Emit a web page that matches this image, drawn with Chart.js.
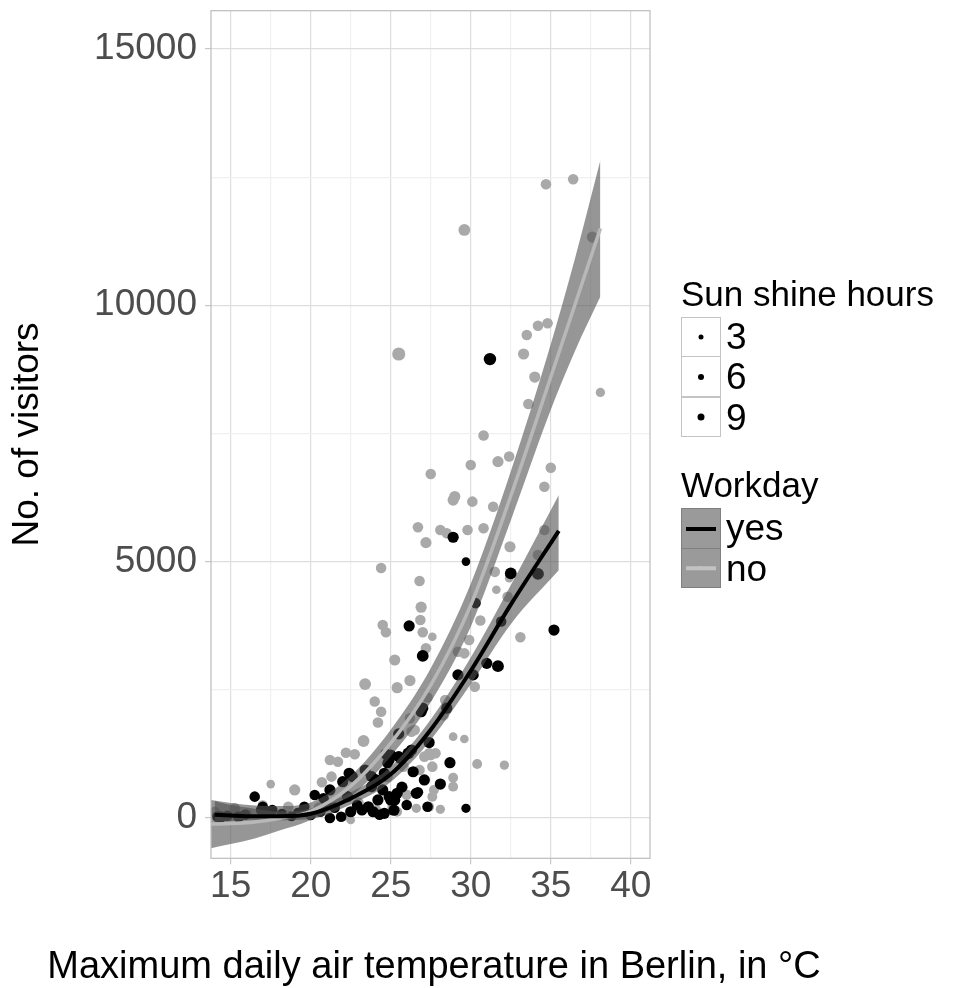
<!DOCTYPE html>
<html>
<head>
<meta charset="utf-8">
<script src="https://cdn.jsdelivr.net/npm/chart.js@4.4.1/dist/chart.umd.min.js"></script>
<style>
  html, body { margin: 0; padding: 0; background: #fff; }
  #wrap { position: relative; width: 958px; height: 988px; font-family: "Liberation Sans", Arial, sans-serif; }
  #chart { position: absolute; left: 0; top: 0; }
  #xtitle { position: absolute; left: 0; width: 868px; top: 946px; text-align: center; font-size: 38px; line-height: 38px; color: #000; white-space: nowrap; }
  .lg-title { position: absolute; left: 681px; font-size: 35px; line-height: 35px; color: #000; white-space: nowrap; }
  .lg-keys { position: absolute; left: 681px; }
  .lg-row { display: flex; height: 40.6px; }
  .lg-key { position: relative; width: 40px; height: 40.6px; box-sizing: border-box; border: 1px solid #c4c4c4; margin-top: -1px; }
  .lg-row:first-child .lg-key { margin-top: 0; }
  .lg-key i { position: absolute; left: 50%; top: 50%; border-radius: 50%; background: #000; transform: translate(-50%, -50%); }
  .lg-key b { position: absolute; left: 4px; right: 4px; top: 50%; transform: translateY(-50%); }
  .lg-lab { font-size: 37px; line-height: 40.6px; margin-left: 5px; color: #000; }
</style>
</head>
<body>
<div id="wrap">
  <canvas id="chart" width="958" height="988"></canvas>
  <div id="xtitle">Maximum daily air temperature in Berlin, in °C</div>
  <div class="lg-title" style="top:276px">Sun shine hours</div>
  <div class="lg-keys" id="sunKeys" style="top:316.7px"></div>
  <div class="lg-title" style="top:467px">Workday</div>
  <div class="lg-keys" id="workKeys" style="top:508.3px"></div>
</div>
<script>
const xTicks = [15, 20, 25, 30, 35, 40];
const xMinor = [17.5, 22.5, 27.5, 32.5, 37.5];
const yTicks = [0, 5000, 10000, 15000];
const yMinor = [2500, 7500, 12500];
const sunBreaks = [3, 6, 9];
const workdayLevels = ['yes', 'no'];

// days that were not workdays
const noTemp = [34.7, 36.4, 29.6, 37.6, 25.5, 34.8, 34.2, 33.5, 33.3, 34.0, 33.6, 38.1, 30.8, 27.5, 30.0,
  31.7, 32.4, 35.0, 34.6, 29.0, 28.9, 30.1, 31.4, 26.7, 28.1, 28.5, 29.8, 30.8, 27.2, 34.6,
  32.45, 34.2, 24.4, 26.8, 32.4, 31.6, 26.9, 26.85, 32.3, 24.5, 24.7, 27.0, 27.6, 33.1, 27.2,
  25.25, 26.2, 23.4, 25.4, 24.0, 24.4, 24.2, 23.3, 26.3, 29.2, 29.6, 29.9, 30.25, 27.4, 27.8,
  28.9, 29.6, 30.4, 28.9, 28.9, 26.6, 28.1, 27.6, 27.7, 22.2, 22.75, 21.2, 21.7, 26.2, 26.5,
  21.3, 20.7, 17.5, 19.0, 25.1, 24.1, 27.4, 27.6, 26.8, 27.1, 27.5, 32.1, 14.0, 15.25, 18.6,
  22.1, 22.5, 25.4, 16.0, 17.0, 19.5, 20.5, 23.0, 23.8, 24.8, 25.8, 26.0, 28.4, 28.3, 27.3,
  30.6, 31.5];
const noVisitors = [12360, 12460, 11470, 11330, 9050, 9650, 9600, 9420, 9050, 8600, 8075, 8300, 7460, 6710, 6885,
  6950, 7050, 6830, 6460, 6270, 6200, 6170, 6070, 5670, 5617, 5553, 5617, 5650, 5370, 5617,
  5290, 5130, 4876, 4620, 4675, 4450, 4110, 3860, 4315, 3765, 3620, 3620, 3535, 3525, 3310,
  3080, 2680, 2610, 2540, 2270, 2070, 1860, 1500, 1680, 3240, 3210, 3470, 2560, 1260, 1260,
  1585, 1540, 1050, 785, 610, 187, 168, 414, 545, 1272, 1240, 1130, 1097, 1943, 1715,
  805, 695, 660, 545, 218, 154, 218, 1000, 935, 1195, 1227, 1030, 120, 187, 218,
  23, -40, 120, 80, 250, 150, 200, 300, 600, 800, 1000, 450, 2300, 2000, 2350,
  3850, 4800];
const noSun = [9, 9, 11, 10, 13, 9, 9, 9, 10, 10, 9, 7, 9, 9, 9,
  10, 9, 9, 9, 10, 10, 9, 9, 9, 9, 9, 9, 9, 10, 9,
  10, 9, 9, 9, 6, 6, 10, 9, 9, 9, 9, 9, 6, 9, 9,
  10, 10, 11, 10, 9, 9, 9, 11, 9, 9, 9, 9, 9, 9, 9,
  6, 6, 8, 8, 8, 7, 7, 8, 8, 9, 9, 9, 9, 9, 9,
  9, 9, 6, 10, 8, 8, 8, 9, 9, 9, 9, 7, 9, 9, 9,
  6, 6, 8, 9, 8, 9, 9, 8, 9, 9, 9, 9, 9, 9, 9,
  9, 9];

// workdays
const yesTemp = [31.2, 28.9, 29.7, 32.5, 34.2, 30.3, 26.15, 35.2, 31.9, 27.0, 29.2, 30.15, 31.0, 31.7, 27.0,
  28.5, 26.1, 25.0, 27.4, 28.7, 27.1, 28.1, 26.7, 29.7, 27.3, 25.5, 26.9, 26.3, 24.7, 25.6,
  24.8, 22.4, 22.6, 22.0, 23.8, 24.1, 24.5, 26.6, 24.9, 25.25, 20.25, 20.8, 21.2, 16.5, 17.0,
  17.6, 14.2, 14.4, 15.5, 16.9, 17.3, 19.6, 20.0, 21.2, 21.9, 22.5, 23.2, 23.6, 24.6, 25.0,
  25.4, 24.2, 24.9, 24.6, 25.5, 23.8, 22.3, 23.4, 14.8, 15.9, 18.2, 18.8, 19.2, 21.5, 22.9,
  23.9, 24.3, 25.2, 25.7, 26.0, 26.4, 21.0, 20.6];
const yesVisitors = [8950, 5475, 5000, 4770, 4760, 4190, 3745, 3665, 3830, 3160, 2790, 2790, 3015, 2960, 2140,
  2140, 1260, 1227, 1470, 1077, 740, 660, 500, 187, 218, 1640, 2072, 1325, 1247, 1163,
  1065, 870, 805, 706, 805, 740, 545, 480, 415, 350, 447, 382, 545, 415, 218,
  154, 23, 23, 23, 154, 120, 218, 57, 0, 23, 120, 154, 218, 90, 350,
  480, 350, 1130, 870, 1195, 610, 415, 935, 40, 60, 80, 30, 100, 200, 250,
  120, 60, 150, 600, 250, 900, 250, 120];
const yesSun = [12, 10, 6, 11, 11, 9, 10, 10, 9, 11, 10, 10, 10, 11, 10,
  10, 11, 10, 10, 10, 10, 10, 9, 7, 9, 10, 10, 10, 10, 10,
  9, 10, 10, 10, 10, 10, 10, 10, 10, 10, 9, 9, 10, 9, 9,
  9, 10, 10, 10, 9, 9, 9, 9, 9, 9, 10, 10, 10, 10, 10,
  10, 10, 10, 10, 10, 10, 10, 10, 9, 9, 8, 8, 8, 9, 9,
  10, 9, 10, 10, 9, 10, 9, 9];

// smoothed fit with confidence band
const noFitTemp = [13.77, 15, 16.5, 18, 20, 22.5, 25, 27.5, 30, 32.5, 35, 36.5, 38.1];
const noFit =  [-120, -110, -80, -10, 130, 620, 1460, 2590, 4150, 6280, 8600, 10000, 11500];
const noLow =  [-590, -510, -400, -250, -40, 420, 1200, 2260, 3730, 5800, 7960, 9100, 10170];
const noHigh = [350, 290, 240, 230, 300, 820, 1720, 2920, 4570, 6760, 9240, 10900, 12830];
const yesFitTemp = [14, 15, 16.5, 18, 20, 22.5, 25, 27.5, 30, 32.5, 35.5];
const yesFit =  [60, 45, 30, 30, 80, 380, 850, 1720, 2870, 4160, 5600];
const yesLow =  [-80, -60, -40, -45, -20, 260, 700, 1520, 2610, 3780, 4830];
const yesHigh = [330, 250, 180, 125, 180, 500, 1000, 1920, 3130, 4540, 6300];

const pts = (xs, ys) => xs.map((x, i) => ({ x: x, y: ys[i] }));
const sunRadius = s => 2.4 + 0.32 * s;
const bandFill = 'rgba(80,80,80,0.6)';
const grayPoint = '#a9a9a9';
const noLine = '#b8b8b8';

const curve = {
  type: 'line',
  pointRadius: 0,
  cubicInterpolationMode: 'monotone',
};

const isMajorX = v => xTicks.includes(v);
const isMajorY = v => yTicks.includes(v);

const panelBorder = {
  id: 'panelBorder',
  afterDraw(chart) {
    const { ctx, chartArea: a } = chart;
    ctx.save();
    ctx.strokeStyle = '#bcbcbc';
    ctx.lineWidth = 1.2;
    ctx.strokeRect(a.left, a.top, a.right - a.left, a.bottom - a.top);
    ctx.restore();
  },
};

Chart.defaults.font.family = '"Liberation Sans", Arial, sans-serif';

new Chart(document.getElementById('chart'), {
  type: 'scatter',
  data: {
    datasets: [
      { ...curve, label: 'yes fit', data: pts(yesFitTemp, yesFit), borderColor: '#000', borderWidth: 4, fill: false, order: 1 },
      { ...curve, label: 'no fit', data: pts(noFitTemp, noFit), borderColor: noLine, borderWidth: 3.5, fill: false, order: 2 },
      { ...curve, label: 'yes high', data: pts(yesFitTemp, yesHigh), borderColor: 'rgba(0,0,0,0)', borderWidth: 0, fill: '+1', backgroundColor: bandFill, order: 5 },
      { ...curve, label: 'yes low', data: pts(yesFitTemp, yesLow), borderColor: 'rgba(0,0,0,0)', borderWidth: 0, fill: false, order: 5 },
      { ...curve, label: 'no high', data: pts(noFitTemp, noHigh), borderColor: 'rgba(0,0,0,0)', borderWidth: 0, fill: '+1', backgroundColor: bandFill, order: 6 },
      { ...curve, label: 'no low', data: pts(noFitTemp, noLow), borderColor: 'rgba(0,0,0,0)', borderWidth: 0, fill: false, order: 6 },
      {
        label: 'yes',
        data: pts(yesTemp, yesVisitors),
        backgroundColor: '#000',
        borderWidth: 0,
        pointRadius: yesSun.map(sunRadius),
        order: 10,
      },
      {
        label: 'no',
        data: pts(noTemp, noVisitors),
        backgroundColor: grayPoint,
        borderWidth: 0,
        pointRadius: noSun.map(sunRadius),
        order: 11,
      },
    ],
  },
  options: {
    responsive: false,
    animation: false,
    events: [],
    layout: { padding: { top: 10.7, right: 308, bottom: 0, left: 0 } },
    plugins: { legend: { display: false }, tooltip: { enabled: false } },
    scales: {
      x: {
        type: 'linear',
        bounds: 'data',
        min: 13.77,
        max: 41.2,
        afterBuildTicks: s => {
          s.ticks = [...xTicks, ...xMinor].sort((a, b) => a - b).map(v => ({ value: v }));
        },
        afterFit: s => {
          s.height = 129.7;
          s.paddingLeft = 0;
          s.paddingRight = 0;
        },
        grid: {
          color: c => (isMajorX(c.tick.value) ? '#dedede' : '#f0f0f0'),
          lineWidth: 1.2,
          tickLength: 6,
          tickColor: c => (isMajorX(c.tick.value) ? '#c8c8c8' : 'rgba(0,0,0,0)'),
        },
        border: { display: false },
        ticks: {
          autoSkip: false,
          maxRotation: 0,
          padding: 0,
          color: '#4d4d4d',
          font: { size: 37 },
          callback: v => (isMajorX(v) ? String(v) : ''),
        },
      },
      y: {
        type: 'linear',
        bounds: 'data',
        min: -788,
        max: 15747,
        afterBuildTicks: s => {
          s.ticks = [...yTicks, ...yMinor].sort((a, b) => a - b).map(v => ({ value: v }));
        },
        afterFit: s => {
          s.width = 211;
          s.paddingTop = 0;
          s.paddingBottom = 0;
        },
        grid: {
          color: c => (isMajorY(c.tick.value) ? '#dedede' : '#f0f0f0'),
          lineWidth: 1.2,
          tickLength: 6,
          tickColor: c => (isMajorY(c.tick.value) ? '#c8c8c8' : 'rgba(0,0,0,0)'),
        },
        border: { display: false },
        ticks: {
          autoSkip: false,
          padding: 8,
          color: '#4d4d4d',
          font: { size: 37 },
          callback: v => (isMajorY(v) ? String(v) : ''),
        },
        title: {
          display: true,
          text: 'No. of visitors',
          color: '#000',
          font: { size: 37 },
          padding: { top: 6, bottom: 0 },
        },
      },
    },
  },
  plugins: [panelBorder],
});

// legend for point size and workday
const dotSize = [5, 6, 7];
const sunKeys = document.getElementById('sunKeys');
sunBreaks.forEach((b, i) => {
  sunKeys.insertAdjacentHTML('beforeend',
    `<div class="lg-row"><span class="lg-key" style="background:#fff"><i style="width:${dotSize[i]}px;height:${dotSize[i]}px"></i></span><span class="lg-lab">${b}</span></div>`);
});
const workColors = { yes: '#000', no: '#c2c2c2' };
const workKeys = document.getElementById('workKeys');
workdayLevels.forEach(lv => {
  workKeys.insertAdjacentHTML('beforeend',
    `<div class="lg-row"><span class="lg-key" style="background:#9a9a9a;border-color:#808080"><b style="height:${lv === 'yes' ? 4 : 3.5}px;background:${workColors[lv]}"></b><i style="width:4px;height:4px;background:${workColors[lv]}"></i></span><span class="lg-lab">${lv}</span></div>`);
});
</script>
</body>
</html>
